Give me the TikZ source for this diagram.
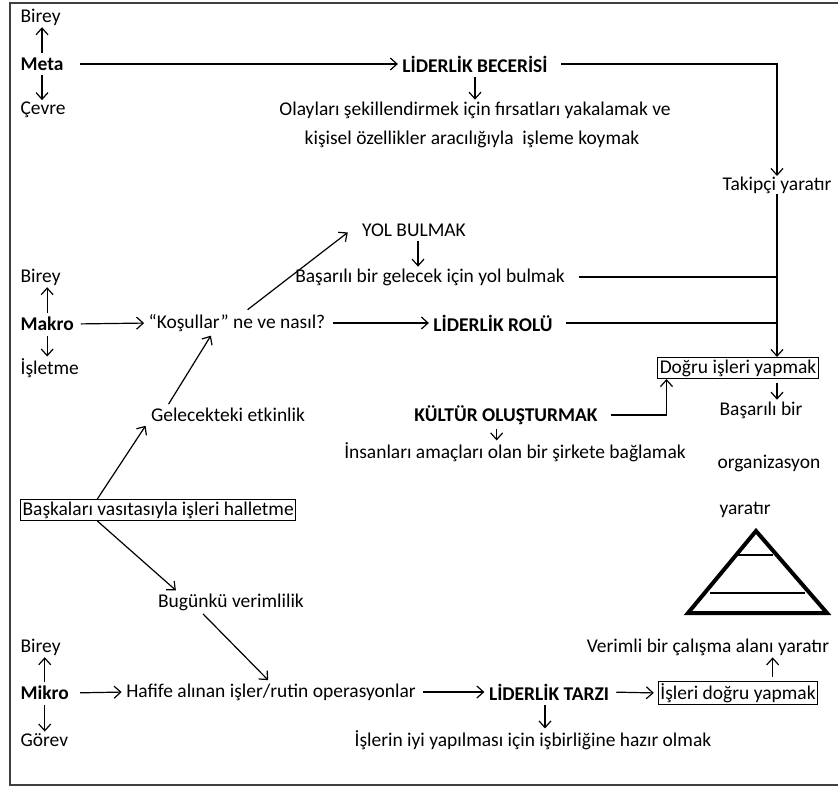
\documentclass[tikz,border=0pt]{standalone}
\usepackage{fontspec}
\setmainfont{Carlito}
\usetikzlibrary{arrows.meta}
\begin{document}
\begin{tikzpicture}[x=0.75pt,y=-0.75pt,font=\fontsize{14.6}{16}\selectfont,
  line width=0.9pt,>={Straight Barb[length=5pt,width=9pt]}]
\tikzstyle{lbl}=[inner sep=0pt]
\tikzstyle{hd}=[inner sep=0pt,font=\fontsize{14.6}{16}\selectfont\bfseries]
\tikzstyle{kutu}=[draw,inner sep=1.5pt]
\tikzstyle{ok}=[->,shorten <=5pt,shorten >=3pt]
\tikzstyle{dik}=[->,shorten <=3pt,shorten >=1pt]
\tikzstyle{hat}=[shorten <=10pt]
\useasboundingbox (0,0) rectangle (838,789);
\draw[line width=1.5pt,black!75] (838,3) -- (10,3) -- (10,785) -- (838,785);

% meta
\node[lbl,anchor=west] (birey1) at (20,17) {Birey};
\node[hd,anchor=west] (meta) at (20,64) {Meta};
\node[lbl,anchor=west] (cevre) at (20,110) {Çevre};
\node[hd] (beceri) at (475,64) {LİDERLİK BECERİSİ};
\node[lbl] (olay1) at (475,110) {Olayları şekillendirmek için fırsatları yakalamak ve};
\node[lbl] (olay2) at (472,139) {kişisel özellikler aracılığıyla\ \ işleme koymak};
\node[lbl] (takipci) at (777,185) {Takipçi yaratır};
\draw[dik] (meta.north) -- (meta.north |- birey1.south);
\draw[dik] (meta.south) -- (meta.south |- cevre.north);
\draw[ok,shorten <=12pt] (meta.east) -- (beceri.west);
\draw[dik] (beceri.south) -- (beceri.south |- olay1.north);
\draw[->,hat] (beceri.east) -| (takipci.north);

% makro
\node[lbl,anchor=west] (birey2) at (20,277) {Birey};
\node[hd,anchor=west] (makro) at (20,324) {Makro};
\node[lbl,anchor=west] (isletme) at (20,368) {İşletme};
\node[lbl] (kosul) at (237,323) {“Koşullar” ne ve nasıl?};
\node[lbl] (yolbul) at (414,230) {YOL BULMAK};
\node[lbl] (yol2) at (430,277) {Başarılı\ bir gelecek için yol bulmak};
\node[hd] (rol) at (493,323) {LİDERLİK ROLÜ};
\node[kutu] (dogru) at (738,368) {Doğru işleri yapmak};
\node[hd] (kultur) at (506,415) {KÜLTÜR OLUŞTURMAK};
\node[lbl] (insan) at (515,452) {İnsanları amaçları olan bir şirkete bağlamak};
\node[lbl,anchor=west] (basar1) at (719,410) {Başarılı bir};
\node[lbl,anchor=west] (basar2) at (717,463) {organizasyon};
\node[lbl,anchor=west] (basar3) at (719,510) {yaratır};
\draw[dik] (makro.north) -- (makro.north |- birey2.south);
\draw[dik] (makro.south) -- (makro.south |- isletme.north);
\draw[ok] (makro.east) -- (kosul.west);
\draw[ok] ([xshift=4pt]kosul.north) -- ([xshift=-8pt]yolbul.west);
\draw[dik] ([xshift=3pt]yolbul.south) -- ([xshift=3pt]yolbul.south |- yol2.north);
\draw[ok] (kosul.east) -- (rol.west);
\draw[->] (takipci.south) -- (takipci.south |- dogru.north);
\draw[hat] (yol2.east) -- (yol2.east -| takipci.south);
\draw[hat] (rol.east) -- (rol.east -| takipci.south);
\draw[dik] ([xshift=-7pt]kultur.south) -- ([xshift=-7pt]kultur.south |- insan.north);
\draw[->,hat] (kultur.east) -| ([xshift=7pt]dogru.south west);
\draw[dik] (dogru.south -| takipci.south) -- (basar1.north -| takipci.south);

% piramit
\draw[line width=3pt,line join=miter] (756,531) -- (827,613) -- (688,613) -- cycle;
\draw (738,555) -- (773,555);
\draw (710,593) -- (805,593);

% orta
\node[lbl] (gelecek) at (228,415) {Gelecekteki etkinlik};
\node[kutu,anchor=west] (baska) at (20,510) {Başkaları vasıtasıyla işleri halletme};
\node[lbl] (bugun) at (231,602) {Bugünkü verimlilik};
\draw[ok,shorten <=3pt] ([xshift=12pt]gelecek.north west) -- ([xshift=-18pt]kosul.south);
\draw[ok,shorten <=0pt] ([xshift=58pt]baska.north west) -- ([xshift=-2pt]gelecek.south west);
\draw[ok,shorten <=0pt] ([xshift=58pt]baska.south west) -- ([xshift=16pt]bugun.north west);

% mikro
\node[lbl,anchor=west] (birey3) at (20,647) {Birey};
\node[hd,anchor=west] (mikro) at (20,693) {Mikro};
\node[lbl,anchor=west] (gorev) at (20,740) {Görev};
\node[lbl] (hafife) at (271,692) {Hafife alınan işler/rutin operasyonlar};
\node[hd] (tarz) at (549,692) {LİDERLİK TARZI};
\node[lbl] (iyi) at (533,740) {İşlerin iyi yapılması için işbirliğine hazır olmak};
\node[kutu] (isleri) at (738,693) {İşleri doğru yapmak};
\node[lbl] (verimli) at (708,647) {Verimli bir çalışma alanı yaratır};
\draw[ok,shorten <=3pt] ([xshift=32pt]bugun.south west) -- (hafife.north);
\draw[dik] (mikro.north) -- (mikro.north |- birey3.south);
\draw[dik] (mikro.south) -- (mikro.south |- gorev.north);
\draw[ok,shorten <=8pt] (mikro.east) -- (hafife.west);
\draw[ok] (hafife.east) -- (tarz.west);
\draw[dik] ([xshift=-3pt]tarz.south) -- ([xshift=-3pt]tarz.south |- iyi.north);
\draw[ok] (tarz.east) -- (isleri.west);
\draw[dik] ([xshift=26pt]isleri.north) -- ([xshift=26pt]isleri.north |- verimli.south);
\end{tikzpicture}
\end{document}
